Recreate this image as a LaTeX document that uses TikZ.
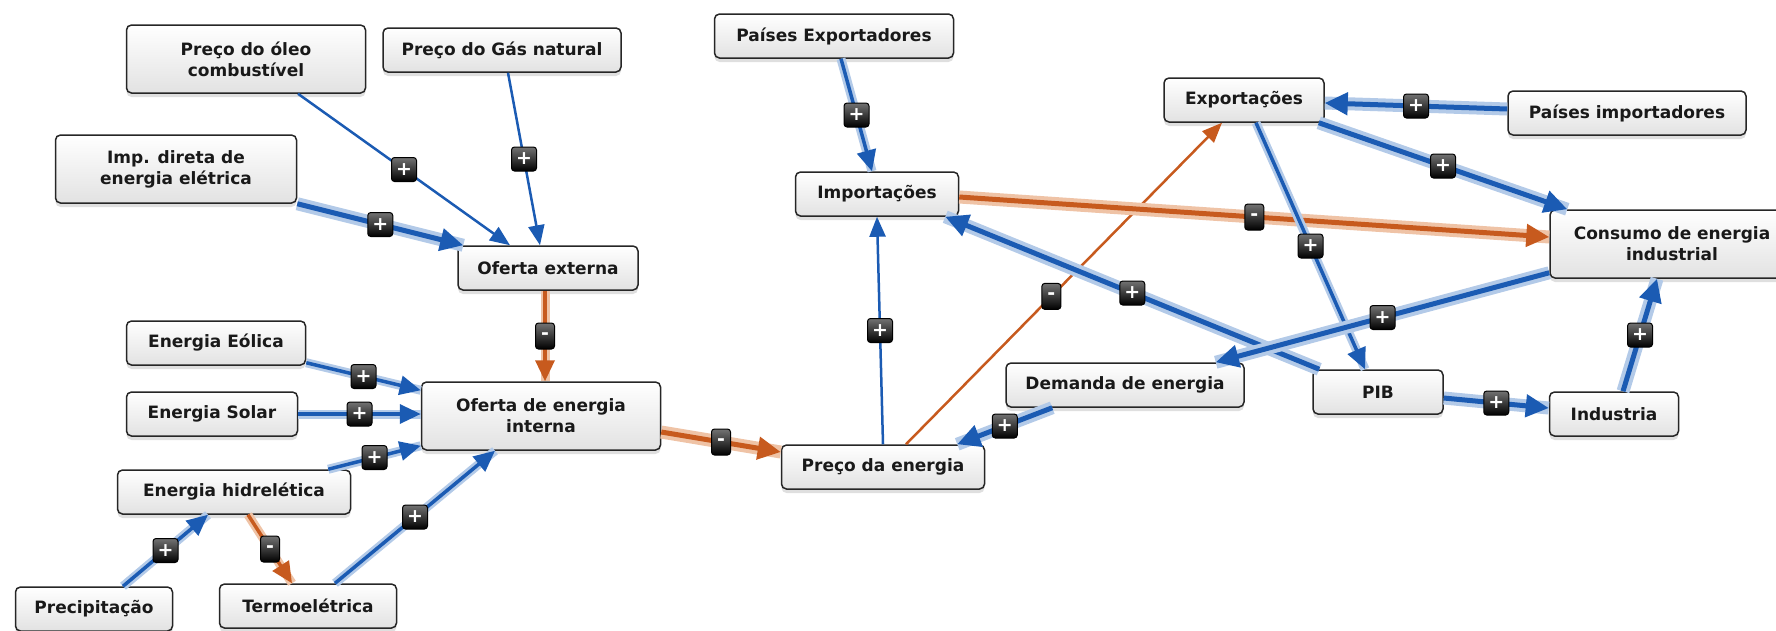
\documentclass[tikz,border=0pt]{standalone}
\usepackage{fontspec}
\setmainfont{DejaVu Sans}
\usetikzlibrary{arrows.meta, shadows}
\definecolor{cdblue}{HTML}{1B5BB3}
\definecolor{cdbluehalo}{HTML}{B3CAE8}
\definecolor{cdorange}{HTML}{C75A1E}
\definecolor{cdorangehalo}{HTML}{EFC3A6}
\definecolor{cdfill}{HTML}{E2E2E2}

\begin{document}
\begin{tikzpicture}[x=1pt, y=-1pt,
    varbox/.style={rectangle, rounded corners=5pt, draw=black!85, line width=1.5pt,
                 top color=white, bottom color=cdfill, align=center, text=black!90,
                 font=\fontsize{17}{21}\selectfont\bfseries, minimum height=44pt,
                 drop shadow={shadow xshift=0pt, shadow yshift=-4pt, opacity=0.25}},
    psign/.style={rectangle, rounded corners=3pt, draw=black, line width=1pt,
                 top color=black!55, bottom color=black, text=white, inner sep=0pt,
                 font=\fontsize{19}{19}\selectfont\bfseries, minimum width=25pt, minimum height=24pt},
    nsign/.style={psign, minimum width=19pt, minimum height=26pt},
    pthin/.style={-{Triangle[length=20pt, width=16pt]}, draw=cdblue, line width=2.5pt},
    pmid/.style={-{Triangle[length=21pt, width=19pt]}, draw=cdblue, line width=3.5pt,
                 preaction={draw=cdbluehalo, line width=9pt, arrows=-}},
    pthick/.style={-{Triangle[length=23pt, width=22pt]}, draw=cdblue, line width=5pt,
                 preaction={draw=cdbluehalo, line width=13pt, arrows=-}},
    nthin/.style={pthin, draw=cdorange},
    nmid/.style={-{Triangle[length=21pt, width=19pt]}, draw=cdorange, line width=3.5pt,
                 preaction={draw=cdorangehalo, line width=9pt, arrows=-}},
    nthick/.style={-{Triangle[length=23pt, width=22pt]}, draw=cdorange, line width=5pt,
                 preaction={draw=cdorangehalo, line width=13pt, arrows=-}}
  ]
    \useasboundingbox (0,0) rectangle (1776,630);

    % variaveis
    \node[varbox, minimum width=239pt, minimum height=68pt] (oleo) at (246,59) {Preço do óleo\\combustível};
    \node[varbox, minimum width=238pt] (gas) at (502,50) {Preço do Gás natural};
    \node[varbox, minimum width=241pt, minimum height=68pt] (impd) at (176,169) {Imp. direta de\\energia elétrica};
    \node[varbox, minimum width=180pt] (ofext) at (548,268) {Oferta externa};
    \node[varbox, minimum width=179pt] (eolica) at (216,343) {Energia Eólica};
    \node[varbox, minimum width=171pt] (solar) at (212,414) {Energia Solar};
    \node[varbox, minimum width=239pt, minimum height=68pt] (ofint) at (541,416) {Oferta de energia\\interna};
    \node[varbox, minimum width=233pt] (hidro) at (234,492) {Energia hidrelética};
    \node[varbox, minimum width=157pt] (precip) at (94,609) {Precipitação};
    \node[varbox, minimum width=177pt] (termo) at (308,606) {Termoelétrica};
    \node[varbox, minimum width=239pt] (pexp) at (834,36) {Países Exportadores};
    \node[varbox, minimum width=163pt] (impo) at (877,194) {Importações};
    \node[varbox, minimum width=160pt] (expo) at (1244,100) {Exportações};
    \node[varbox, minimum width=238pt] (pimp) at (1627,113) {Países importadores};
    \node[varbox, minimum width=244pt, minimum height=68pt] (consumo) at (1672,244) {Consumo de energia\\industrial};
    \node[varbox, minimum width=238pt] (demanda) at (1125,385) {Demanda de energia};
    \node[varbox, minimum width=130pt] (pib) at (1378,392) {PIB};
    \node[varbox, minimum width=129pt] (industria) at (1614,414) {Industria};
    \node[varbox, minimum width=203pt] (preco) at (883,467) {Preço da energia};

    % ligacoes
    \draw[pthin] ([xshift=52pt]oleo.south) -- node[psign] {+} ([xshift=-38pt]ofext.north);
    \draw[pthin] ([xshift=6pt]gas.south) -- node[psign] {+} ([xshift=-8pt]ofext.north);
    \draw[pthick] (impd.south east) -- node[psign] {+} ([xshift=6pt]ofext.north west);
    \draw[nmid] ([xshift=-3pt]ofext.south) -- node[nsign] {-} ([xshift=4pt]ofint.north);
    \draw[pmid] ([yshift=3pt]eolica.south east) -- node[psign] {+} ([yshift=-9pt]ofint.north west);
    \draw[pmid] (solar.east) -- node[psign] {+} (solar.east -| ofint.west);
    \draw[pmid] ([xshift=-23pt]hidro.north east) -- node[psign] {+} ([yshift=5pt]ofint.south west);
    \draw[pmid] ([xshift=27pt]termo.north) -- node[psign] {+} ([xshift=-46pt]ofint.south);
    \draw[pmid] ([xshift=29pt]precip.north) -- node[psign] {+} ([xshift=-26pt]hidro.south);
    \draw[nmid] ([xshift=14pt]hidro.south) -- node[nsign] {-} ([xshift=-16pt]termo.north);
    \draw[nthick] ([yshift=-16pt]ofint.east) -- node[nsign] {-} ([yshift=15pt]preco.west);
    \draw[pmid] ([xshift=7pt]pexp.south) -- node[psign] {+} ([xshift=-5pt]impo.north);
    \draw[pthin] (preco.north) -- node[psign] {+} (impo.south);
    \draw[nthin] ([xshift=23pt]preco.north) -- node[nsign, pos=0.46] {-} ([xshift=-22pt]expo.south);
    \draw[nthick] ([yshift=-3pt]impo.east) -- node[nsign] {-} ([yshift=7pt]consumo.west);
    \draw[pthick] ([xshift=7pt]pib.north west) -- node[psign] {+} ([xshift=-14pt]impo.south east);
    \draw[pthick] ([yshift=4pt]pimp.west) -- node[psign] {+} ([yshift=-3pt]expo.east);
    \draw[pthick] ([xshift=-6pt]expo.south east) -- node[psign] {+} ([xshift=18pt]consumo.north west);
    \draw[pmid] ([xshift=12pt]expo.south) -- node[psign] {+} ([xshift=-13pt]pib.north);
    \draw[pthick] ([yshift=6pt]consumo.south west) -- node[psign] {+} ([xshift=-29pt]demanda.north east);
    \draw[pthick] ([xshift=47pt]demanda.south west) -- node[psign] {+} ([xshift=-28pt]preco.north east);
    \draw[pthick] ([yshift=-6pt]pib.east) -- node[psign] {+} ([yshift=6pt]industria.west);
    \draw[pthick] ([xshift=9pt]industria.north) -- node[psign] {+} ([xshift=-15pt]consumo.south);
  \end{tikzpicture}
\end{document}
